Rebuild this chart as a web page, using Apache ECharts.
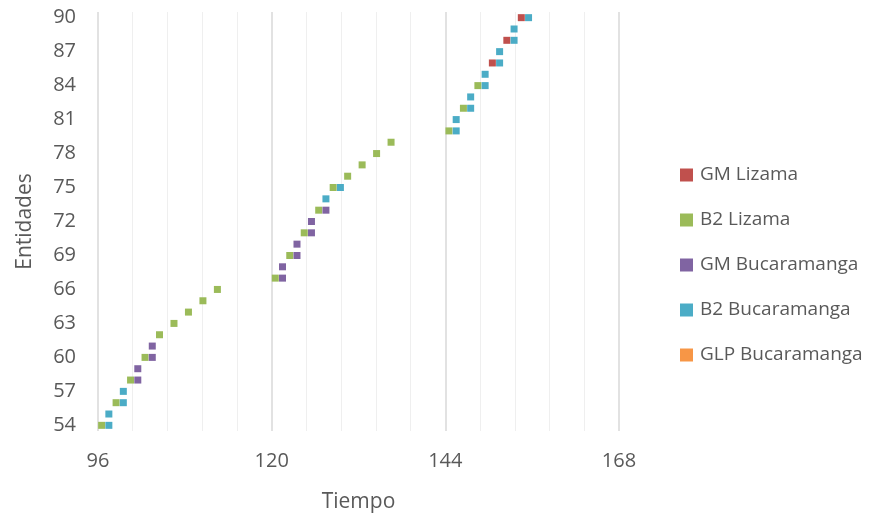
<!DOCTYPE html>
<html>
<head>
<meta charset="utf-8">
<script src="https://cdn.jsdelivr.net/npm/echarts@6/dist/echarts.min.js"></script>
<style>
  html, body { margin: 0; padding: 0; background: #ffffff; }
  #chart { width: 894px; height: 520px; }
</style>
</head>
<body>
<div id="chart"></div>
<script>
// Entity rows shown on the vertical axis (bottom to top)
const entities = [];
for (let e = 54; e <= 90; e++) entities.push(String(e));

// X axis range and tick step
const timeMin = 96;
const timeMax = 168;
const timeStep = 24;

// Series names and colours
const seriesNames = ['GM Lizama', 'B2 Lizama', 'GM Bucaramanga', 'B2 Bucaramanga', 'GLP Bucaramanga'];
const seriesColors = ['#C0504D', '#9BBB59', '#8064A2', '#4BACC6', '#F79646'];

// GM Lizama
const gmLizamaTime = [150.5, 152.5, 154.5];
const gmLizamaEnt  = [86, 88, 90];

// B2 Lizama
const b2LizamaTime = [96.5, 98.5, 100.5, 102.5, 104.5, 106.5, 108.5, 110.5, 112.5,
                      120.5, 122.5, 124.5, 126.5, 128.5, 130.5, 132.5, 134.5, 136.5,
                      144.5, 146.5, 148.5];
const b2LizamaEnt  = [54, 56, 58, 60, 62, 63, 64, 65, 66,
                      67, 69, 71, 73, 75, 76, 77, 78, 79,
                      80, 82, 84];

// GM Bucaramanga
const gmBucTime = [101.5, 101.5, 103.5, 103.5, 121.5, 121.5, 123.5, 123.5, 125.5, 125.5, 127.5];
const gmBucEnt  = [58, 59, 60, 61, 67, 68, 69, 70, 71, 72, 73];

// B2 Bucaramanga
const b2BucTime = [97.5, 97.5, 99.5, 99.5, 127.5, 129.5,
                   145.5, 145.5, 147.5, 147.5, 149.5, 149.5, 151.5, 151.5, 153.5, 153.5, 155.5];
const b2BucEnt  = [54, 55, 56, 57, 74, 75,
                   80, 81, 82, 83, 84, 85, 86, 87, 88, 89, 90];

// GLP Bucaramanga (no entries)
const glpBucTime = [];
const glpBucEnt  = [];

const seriesTimes = [gmLizamaTime, b2LizamaTime, gmBucTime, b2BucTime, glpBucTime];
const seriesEnts  = [gmLizamaEnt, b2LizamaEnt, gmBucEnt, b2BucEnt, glpBucEnt];

const FONT = '"Open Sans", "Liberation Sans", sans-serif';
const TEXT = '#595959';

const chart = echarts.init(document.getElementById('chart'), null, { renderer: 'canvas' });

chart.setOption({
  animation: false,
  backgroundColor: '#ffffff',
  textStyle: { fontFamily: FONT },
  grid: { left: 98, right: 275, top: 12, bottom: 89, containLabel: false },
  legend: {
    orient: 'vertical',
    left: 675,
    top: 160,
    icon: 'rect',
    itemWidth: 13,
    itemHeight: 13,
    itemGap: 25,
    data: seriesNames,
    textStyle: { fontFamily: FONT, fontSize: 19, color: TEXT, lineHeight: 20, padding: [0, 0, 0, 2] }
  },
  xAxis: {
    type: 'value',
    min: timeMin,
    max: timeMax,
    interval: timeStep,
    name: 'Tiempo',
    nameLocation: 'middle',
    nameGap: 61,
    nameTextStyle: { fontFamily: FONT, fontSize: 21, color: TEXT },
    axisLine: { show: false },
    axisTick: { show: false },
    axisLabel: { fontFamily: FONT, fontSize: 20, color: TEXT, margin: 20 },
    splitLine: { show: true, lineStyle: { color: '#d9d9d9', width: 1.5 } },
    minorTick: { show: false, splitNumber: 5 },
    minorSplitLine: { show: true, lineStyle: { color: '#efefef', width: 1 } }
  },
  yAxis: {
    type: 'category',
    data: entities,
    boundaryGap: true,
    name: 'Entidades',
    nameLocation: 'middle',
    nameGap: 62,
    nameRotate: 90,
    nameTextStyle: { fontFamily: FONT, fontSize: 21, color: TEXT },
    axisLine: { show: false },
    axisTick: { show: false },
    axisLabel: { interval: 2, fontFamily: FONT, fontSize: 20, color: TEXT, margin: 22 },
    splitLine: { show: false }
  },
  series: seriesNames.map((name, i) => ({
    name: name,
    type: 'scatter',
    symbol: 'rect',
    symbolSize: 7,
    itemStyle: { color: seriesColors[i], opacity: 1 },
    emphasis: { disabled: true },
    data: seriesTimes[i].map((t, k) => [t, String(seriesEnts[i][k])])
  }))
});
</script>
</body>
</html>
